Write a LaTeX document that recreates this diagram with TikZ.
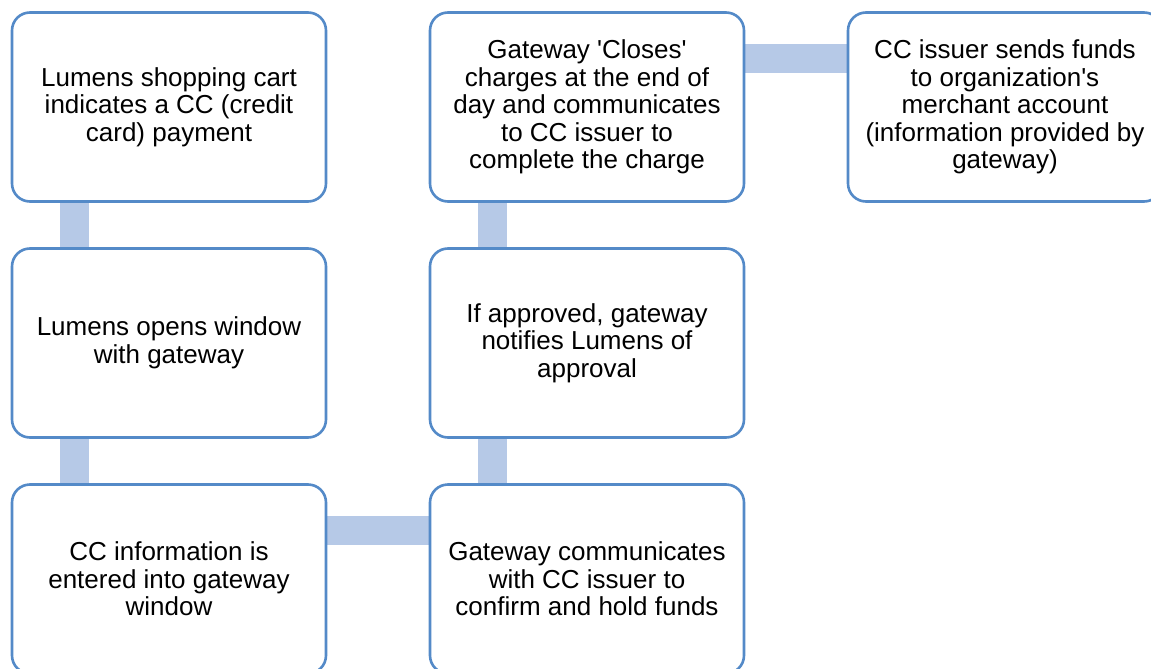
\documentclass[tikz,border=0pt]{standalone}
\usepackage{fontspec}
\setmainfont{Liberation Sans}
\usepackage{tikz}
\usetikzlibrary{positioning,backgrounds}
\definecolor{boxblue}{RGB}{84,138,200}
\definecolor{linkblue}{RGB}{182,201,231}

\begin{document}
\begin{tikzpicture}[
        x=1pt, y=-1pt,
        stepbox/.style={rectangle, rounded corners=18pt, minimum width=314pt, minimum height=189pt,
          draw=boxblue, line width=2.6pt, fill=white, inner sep=0pt, align=center,
          font=\fontsize{26}{27.5}\selectfont},
        link/.style={linkblue, line width=29pt},
      ]
        \useasboundingbox (0, 0) rectangle (1151, 669);
        \clip (0, 0) rectangle (1151, 669);

        % Left column
        \node[stepbox] (cart) at (169, 107) {Lumens shopping cart\\indicates a CC (credit\\card) payment};
        \node[stepbox] (window) at (169, 343) {Lumens opens window\\with gateway};
        \node[stepbox] (entry) at (169, 579) {CC information is\\entered into gateway\\window};

        % Middle column
        \node[stepbox] (hold) at (587, 579) {Gateway communicates\\with CC issuer to\\confirm and hold funds};
        \node[stepbox] (approve) at (587, 343) {If approved, gateway\\notifies Lumens of\\approval};
        \node[stepbox] (close) at (587, 107) {Gateway \textquotesingle Closes\textquotesingle\\charges at the end of\\day and communicates\\to CC issuer to\\complete the charge};

        % Right column
        \node[stepbox] (funds) at (1005, 107) {CC issuer sends funds\\to organization\textquotesingle s\\merchant account\\(information provided by\\gateway)};

        % Links
        \begin{scope}[on background layer]
          \draw[link] ([xshift=63.5pt]cart.south west) -- ([xshift=63.5pt]window.north west);
          \draw[link] ([xshift=63.5pt]window.south west) -- ([xshift=63.5pt]entry.north west);
          \draw[link] ([yshift=-47pt]entry.north east) -- ([yshift=-47pt]hold.north west);
          \draw[link] ([xshift=63.5pt]hold.north west) -- ([xshift=63.5pt]approve.south west);
          \draw[link] ([xshift=63.5pt]approve.north west) -- ([xshift=63.5pt]close.south west);
          \draw[link] ([yshift=-47pt]close.north east) -- ([yshift=-47pt]funds.north west);
        \end{scope}
      \end{tikzpicture}
\end{document}
